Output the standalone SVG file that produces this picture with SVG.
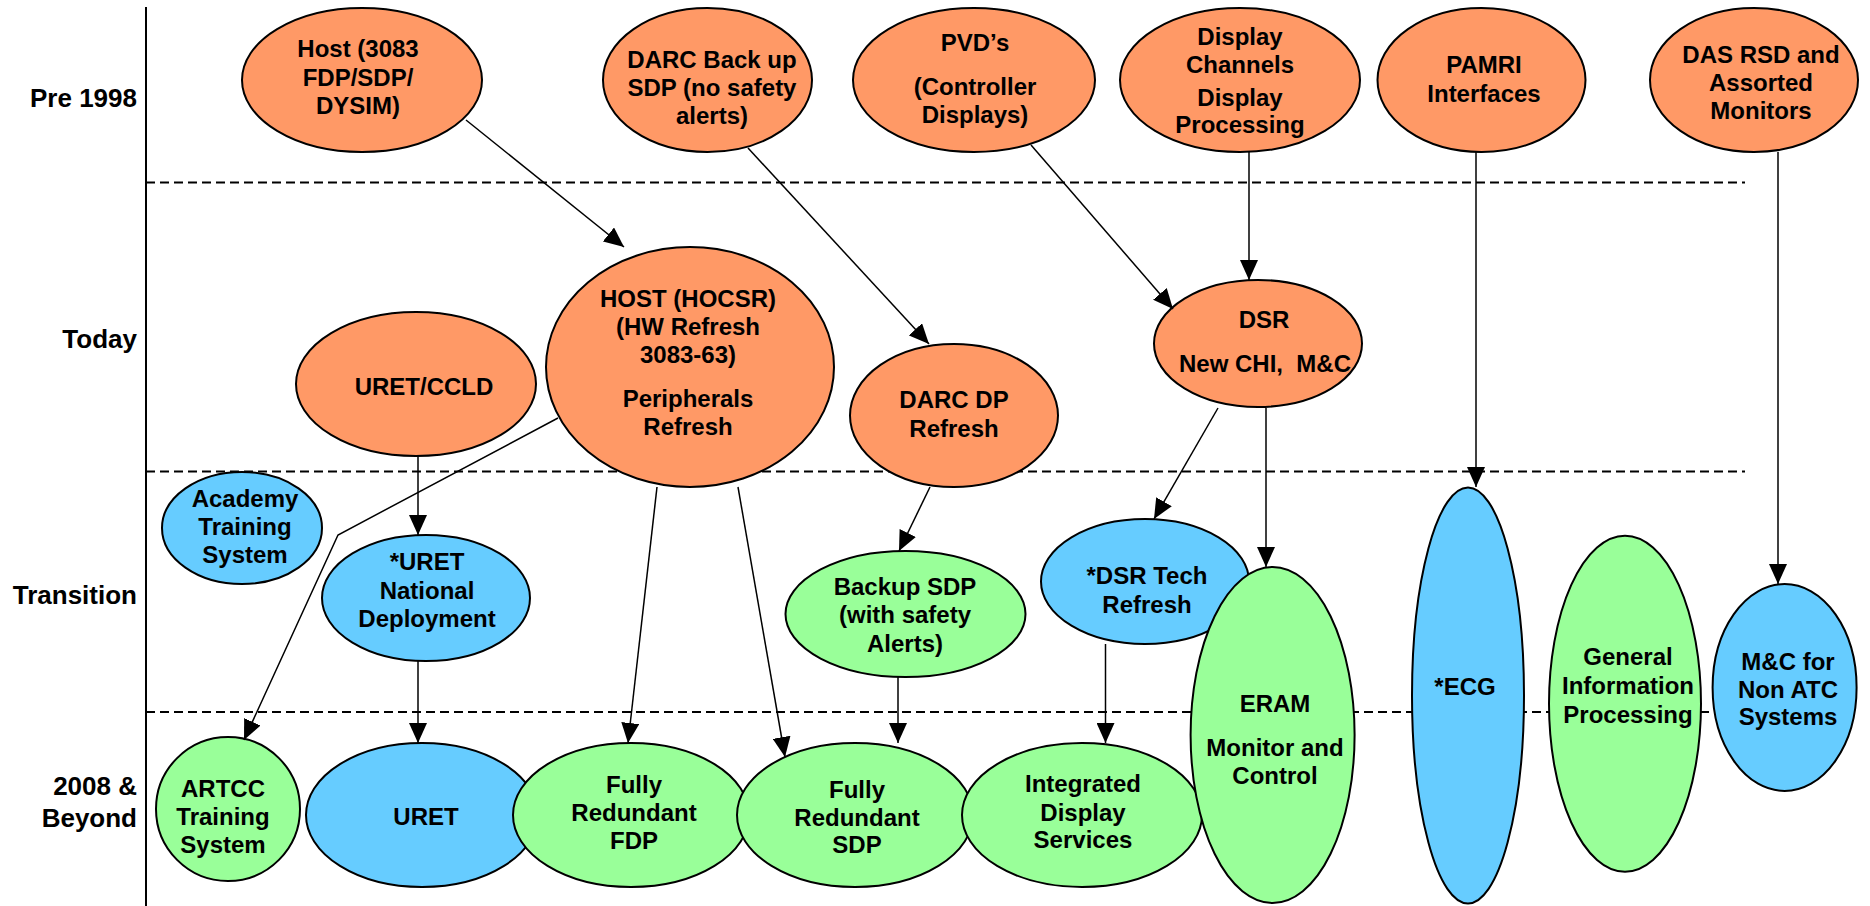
<svg xmlns="http://www.w3.org/2000/svg" width="1870" height="906" viewBox="0 0 1870 906">
<style>
.o{fill:#FF9966;stroke:#000;stroke-width:2}
.b{fill:#66CCFF;stroke:#000;stroke-width:2}
.g{fill:#99FF99;stroke:#000;stroke-width:2}
text{font-family:"Liberation Sans",Arial,sans-serif;font-weight:bold;font-size:24px;fill:#000;text-anchor:middle}
.lbl{font-size:26px;text-anchor:end}
.dash{stroke:#000;stroke-width:2;stroke-dasharray:9 5;fill:none}
.axis{stroke:#000;stroke-width:2;fill:none}
.c{stroke:#000;stroke-width:1.5;fill:none;marker-end:url(#arr)}
</style>
<defs>
<marker id="arr" markerUnits="userSpaceOnUse" markerWidth="20" markerHeight="18" refX="20" refY="9" orient="auto" viewBox="0 0 20 18"><path d="M0,0 L20,9 L0,18 z" fill="#000"/></marker>
</defs>
<g id="grid">
<line class="axis" x1="146" y1="7" x2="146" y2="906"/>
<line class="dash" x1="146" y1="182.5" x2="1745" y2="182.5"/>
<line class="dash" x1="146" y1="471.5" x2="1745" y2="471.5"/>
<line class="dash" x1="146" y1="712" x2="1745" y2="712"/>
</g>
<g id="labels">
<text class="lbl" x="137" y="107">Pre 1998</text>
<text class="lbl" x="137" y="348">Today</text>
<text class="lbl" x="137" y="604">Transition</text>
<text class="lbl" x="137" y="795">2008 &amp;</text>
<text class="lbl" x="137" y="827">Beyond</text>
</g>
<g id="host3083"><ellipse class="o" cx="362" cy="80" rx="120" ry="72"/><text><tspan x="358" y="57">Host (3083</tspan><tspan x="358" y="86">FDP/SDP/</tspan><tspan x="358" y="114">DYSIM)</tspan></text></g>
<g id="darcbackup"><ellipse class="o" cx="707.5" cy="80" rx="104.5" ry="72"/><text><tspan x="712" y="68">DARC Back up</tspan><tspan x="712" y="96">SDP (no safety</tspan><tspan x="712" y="124">alerts)</tspan></text></g>
<g id="pvd"><ellipse class="o" cx="974" cy="80" rx="121" ry="72"/><text><tspan x="975" y="51">PVD’s</tspan><tspan x="975" y="95">(Controller</tspan><tspan x="975" y="123">Displays)</tspan></text></g>
<g id="displaychannels"><ellipse class="o" cx="1240" cy="80" rx="120" ry="72"/><text><tspan x="1240" y="45">Display</tspan><tspan x="1240" y="73">Channels</tspan><tspan x="1240" y="106">Display</tspan><tspan x="1240" y="133">Processing</tspan></text></g>
<g id="pamri"><ellipse class="o" cx="1481.5" cy="80" rx="104" ry="72"/><text><tspan x="1484" y="73">PAMRI</tspan><tspan x="1484" y="102">Interfaces</tspan></text></g>
<g id="dasrsd"><ellipse class="o" cx="1754" cy="80" rx="104" ry="72"/><text><tspan x="1761" y="63">DAS RSD and</tspan><tspan x="1761" y="91">Assorted</tspan><tspan x="1761" y="119">Monitors</tspan></text></g>
<g id="uretccld"><ellipse class="o" cx="416" cy="384" rx="120" ry="72"/><text x="424" y="395">URET/CCLD</text></g>
<g id="hocsr"><ellipse class="o" cx="690" cy="367" rx="144" ry="120"/><text><tspan x="688" y="307">HOST (HOCSR)</tspan><tspan x="688" y="335">(HW Refresh</tspan><tspan x="688" y="363">3083-63)</tspan><tspan x="688" y="407">Peripherals</tspan><tspan x="688" y="435">Refresh</tspan></text></g>
<g id="darcdp"><ellipse class="o" cx="954" cy="415.5" rx="104" ry="71.5"/><text><tspan x="954" y="408">DARC DP</tspan><tspan x="954" y="437">Refresh</tspan></text></g>
<g id="dsr"><ellipse class="o" cx="1258" cy="343.5" rx="104" ry="63.5"/><text><tspan x="1264" y="328">DSR</tspan><tspan x="1265" y="372" xml:space="preserve">New CHI,  M&amp;C</tspan></text></g>
<g id="academy"><ellipse class="b" cx="242" cy="528" rx="80" ry="56"/><text><tspan x="245" y="507">Academy</tspan><tspan x="245" y="535">Training</tspan><tspan x="245" y="563">System</tspan></text></g>
<g id="uretnd"><ellipse class="b" cx="426" cy="598" rx="104" ry="63"/><text><tspan x="427" y="570">*URET</tspan><tspan x="427" y="599">National</tspan><tspan x="427" y="627">Deployment</tspan></text></g>
<g id="backupsdp"><ellipse class="g" cx="905.5" cy="614" rx="120" ry="63"/><text><tspan x="905" y="595">Backup SDP</tspan><tspan x="905" y="623">(with safety</tspan><tspan x="905" y="652">Alerts)</tspan></text></g>
<g id="artcc"><ellipse class="g" cx="228" cy="809" rx="72" ry="72"/><text><tspan x="223" y="797">ARTCC</tspan><tspan x="223" y="825">Training</tspan><tspan x="223" y="853">System</tspan></text></g>
<g id="uret"><ellipse class="b" cx="422" cy="815" rx="116" ry="72"/><text x="426" y="825">URET</text></g>
<g id="frfdp"><ellipse class="g" cx="631" cy="815" rx="118" ry="72"/><text><tspan x="634" y="793">Fully</tspan><tspan x="634" y="821">Redundant</tspan><tspan x="634" y="849">FDP</tspan></text></g>
<g id="frsdp"><ellipse class="g" cx="855" cy="815" rx="118" ry="72"/><text><tspan x="857" y="798">Fully</tspan><tspan x="857" y="826">Redundant</tspan><tspan x="857" y="853">SDP</tspan></text></g>
<g id="ids"><ellipse class="g" cx="1082" cy="815" rx="120" ry="72"/><text><tspan x="1083" y="792">Integrated</tspan><tspan x="1083" y="821">Display</tspan><tspan x="1083" y="848">Services</tspan></text></g>
<g id="dsrtech"><ellipse class="b" cx="1145" cy="581.5" rx="104" ry="62.5"/><text><tspan x="1147" y="584">*DSR Tech</tspan><tspan x="1147" y="613">Refresh</tspan></text></g>
<g id="eram"><ellipse class="g" cx="1272.6" cy="735" rx="82" ry="168"/><text><tspan x="1275" y="712">ERAM</tspan><tspan x="1275" y="756">Monitor and</tspan><tspan x="1275" y="784">Control</tspan></text></g>
<g id="ecg"><ellipse class="b" cx="1468" cy="695.5" rx="56" ry="208"/><text x="1465" y="695">*ECG</text></g>
<g id="gip"><ellipse class="g" cx="1625" cy="703.7" rx="76" ry="168"/><text><tspan x="1628" y="665">General</tspan><tspan x="1628" y="694">Information</tspan><tspan x="1628" y="723">Processing</tspan></text></g>
<g id="mcnonatc"><ellipse class="b" cx="1784.6" cy="687.5" rx="72" ry="103.5"/><text><tspan x="1788" y="670">M&amp;C for</tspan><tspan x="1788" y="698">Non ATC</tspan><tspan x="1788" y="725">Systems</tspan></text></g>
<g id="connectors">
<line class="c" x1="466" y1="120" x2="624" y2="247"/>
<line class="c" x1="748" y1="148" x2="929" y2="344"/>
<line class="c" x1="1031" y1="145" x2="1173" y2="309"/>
<line class="c" x1="1249" y1="152" x2="1249" y2="280"/>
<line class="c" x1="1476" y1="152" x2="1476" y2="487"/>
<line class="c" x1="1778" y1="152" x2="1778" y2="584"/>
<line class="c" x1="418" y1="456" x2="418" y2="535"/>
<polyline class="c" points="558,418 338,535 244,740"/>
<line class="c" x1="657" y1="487" x2="628" y2="743"/>
<line class="c" x1="738" y1="487" x2="785" y2="757"/>
<line class="c" x1="930" y1="487" x2="899" y2="551"/>
<line class="c" x1="1218" y1="408" x2="1154" y2="519"/>
<line class="c" x1="1266" y1="408" x2="1266" y2="567"/>
<line class="c" x1="418" y1="661" x2="418" y2="743"/>
<line class="c" x1="898" y1="677" x2="898" y2="743"/>
<line class="c" x1="1105.5" y1="644" x2="1105.5" y2="743"/>
</g>
</svg>
